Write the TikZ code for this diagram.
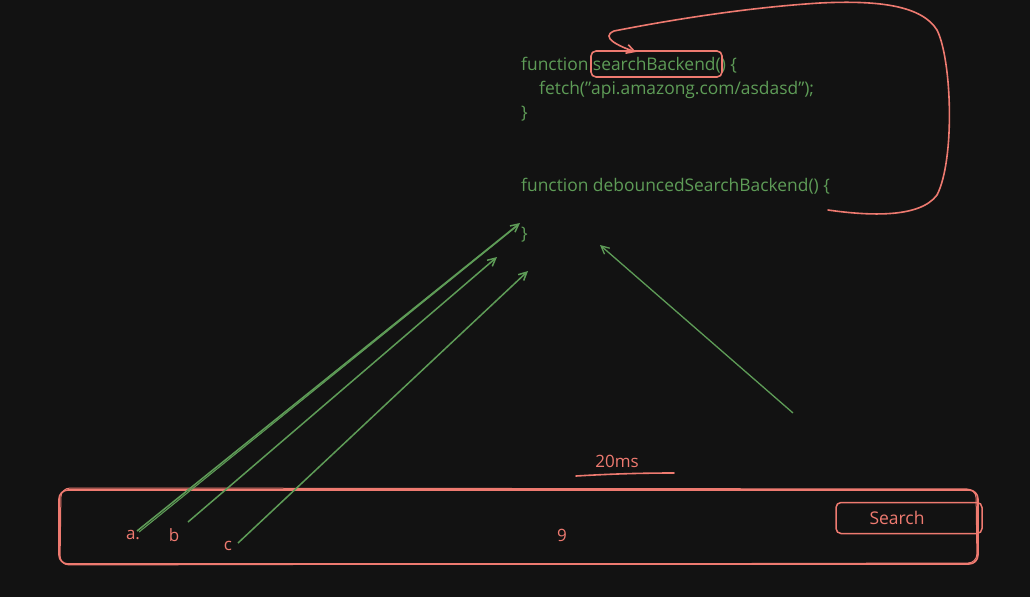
\documentclass[tikz,border=0pt]{standalone}
\usepackage{fontspec}
\setmainfont{Open Sans}
\usetikzlibrary{arrows.meta}
\definecolor{bgdark}{HTML}{121212}
\definecolor{codegreen}{HTML}{5E9C57}
\definecolor{inkred}{HTML}{EE7A70}
\begin{document}
\begin{tikzpicture}[
    x=1pt, y=-1pt,
    code/.style={anchor=base west, inner sep=0pt, text=codegreen, font=\fontsize{17.4}{20}\selectfont},
    lbl/.style={inner sep=0pt, text=inkred, font=\fontsize{17}{20}\selectfont},
    redline/.style={draw=inkred, line width=1.6pt, line cap=round, line join=round},
    grarr/.style={draw=codegreen, line width=1.5pt, -{Straight Barb[length=8pt, width=8pt]}}
]
    \fill[bgdark] (0,0) rectangle (1030,597);
    \useasboundingbox (0,0) rectangle (1030,597);

    % Code lines
    \node[code] (fn1) at (521,70) {function searchBackend() \{};
    \node[code] (fetch) at (539,94) {fetch(\symbol{34}api.amazong.com/asdasd\symbol{34});};
    \node[code] (close1) at (521,118) {\}};
    \node[code] (fn2) at (521,191) {function debouncedSearchBackend() \{};
    \node[code] (close2) at (521,239) {\}};

    % Highlight around searchBackend()
    \draw[redline, rounded corners=5pt] (591,51) rectangle (722,77);

    % Loop from debounced function back to searchBackend
    \coordinate (loopstart) at (828,210);
    \coordinate (looptip) at (636,52);
    \draw[redline, -{Straight Barb[length=8pt, width=9pt]}] (loopstart)
        .. controls (870,216) and (920,218) .. (937,195)
        .. controls (955,160) and (952,60) .. (937,30)
        .. controls (922,6) and (880,0) .. (820,3)
        .. controls (740,8) and (660,22) .. (614,31)
        .. controls (600,37) and (618,46) .. (looptip);

    % Input box
    \draw[redline, rounded corners=9pt] (59,490) rectangle (978,564);
    \draw[redline, line width=1pt, rounded corners=9pt] (61,488) -- (976,489) -- (977,563) -- (60,565) -- cycle;
    \node[lbl] (la) at (133,535) {a.};
    \node[lbl] (lb) at (174,535) {b};
    \node[lbl] (lc) at (228,546) {c};
    \node[lbl] (nine) at (562,535) {9};

    % Search button
    \node[lbl, draw=inkred, line width=1.5pt, rounded corners=5pt, minimum width=146pt, minimum height=31pt, font=\fontsize{17.5}{20}\selectfont] (search) at (909,518) {\hspace*{-24pt}Search};

    % Timer
    \node[lbl] (timer) at (617,461) {20ms};
    \coordinate (ulstart) at (576,476);
    \coordinate (ulend) at (674,473);
    \draw[redline] (ulstart) .. controls (610,474) and (640,473) .. (ulend);

    % Keystroke calls
    \coordinate (atail) at (137,531);
    \coordinate (atail2) at (139,532);
    \coordinate (btail) at (188,522);
    \coordinate (ctail) at (238,543);
    \coordinate (ahead) at (520,223);
    \coordinate (ahead2) at (517,226);
    \coordinate (bhead) at (497,257);
    \coordinate (chead) at (528,271);
    \draw[grarr] (atail) -- (ahead);
    \draw[draw=codegreen, line width=1.1pt] (atail2) -- (ahead2);
    \draw[grarr] (btail) -- (bhead);
    \draw[grarr] (ctail) -- (chead);

    % Delayed call
    \coordinate (dtail) at (793,413);
    \coordinate (dhead) at (600,245);
    \draw[grarr, line width=1.3pt] (dtail) -- (dhead);
\end{tikzpicture}
\end{document}
